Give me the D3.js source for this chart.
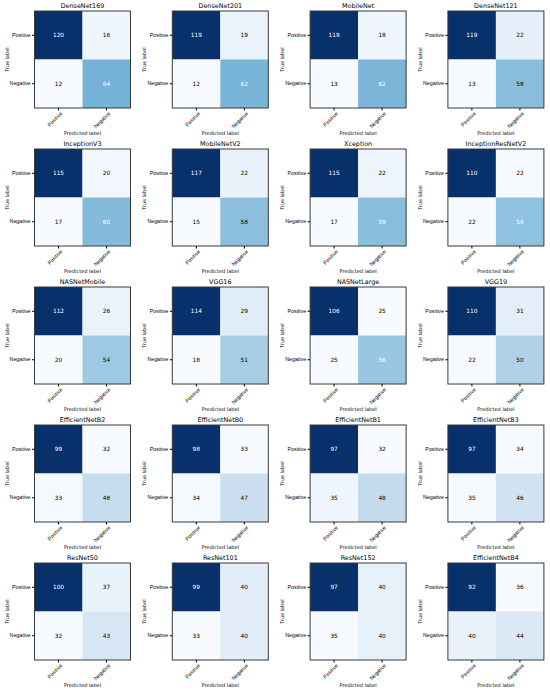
<!DOCTYPE html>
<html>
<head>
<meta charset="utf-8">
<script src="https://cdn.jsdelivr.net/npm/d3@7"></script>
<style>
  body { margin: 0; background: #fff; }
  svg { font-family: "DejaVu Sans", sans-serif; }
</style>
</head>
<body>
<div id="chart"></div>
<script>
// model names, in reading order (4 per row)
const modelNames = [
    "DenseNet169", "DenseNet201", "MobileNet", "DenseNet121",
    "InceptionV3", "MobileNetV2", "Xception", "InceptionResNetV2",
    "NASNetMobile", "VGG16", "NASNetLarge", "VGG19",
    "EfficientNetB2", "EfficientNetB0", "EfficientNetB1", "EfficientNetB3",
    "ResNet50", "ResNet101", "ResNet152", "EfficientNetB4"
];
const classLabels = ["Positive", "Negative"];

// confusion matrix cells: [true][predicted]
const posPos = [120, 119, 119, 119, 115, 117, 115, 110, 112, 114, 106, 110, 99, 98, 97, 97, 100, 99, 97, 92];
const posNeg = [16, 19, 18, 22, 20, 22, 22, 22, 26, 29, 25, 31, 32, 33, 32, 34, 37, 40, 40, 36];
const negPos = [12, 12, 13, 13, 17, 15, 17, 22, 20, 18, 25, 22, 33, 34, 35, 35, 32, 33, 35, 40];
const negNeg = [64, 62, 62, 58, 60, 58, 59, 58, 54, 51, 56, 50, 48, 47, 48, 46, 43, 40, 40, 44];

const width = 550, height = 691;
const nCols = 4;
const boxW = 96, boxH = 97;
const colStep = 137.8, rowStep = 138;
const left0 = 34.5, top0 = 11;

const svg = d3.select("#chart")
    .append("svg")
    .attr("width", width)
    .attr("height", height);

modelNames.forEach(function(name, i) {
    let col = i % nCols, row = Math.floor(i / nCols);
    let g = svg.append("g")
        .attr("transform", `translate(${left0 + col * colStep},${top0 + row * rowStep})`);

    let cells = [
        {t: 0, p: 0, v: posPos[i]},
        {t: 0, p: 1, v: posNeg[i]},
        {t: 1, p: 0, v: negPos[i]},
        {t: 1, p: 1, v: negNeg[i]}
    ];
    let vmin = d3.min(cells, d => d.v), vmax = d3.max(cells, d => d.v);

    let x = d3.scaleBand().domain(classLabels).range([0, boxW]);
    let y = d3.scaleBand().domain(classLabels).range([0, boxH]);
    let color = d3.scaleSequential(d3.interpolateBlues).domain([vmin, vmax]);

    g.selectAll("rect.cell").data(cells).enter()
        .append("rect")
        .attr("class", "cell")
        .attr("x", d => x(classLabels[d.p]))
        .attr("y", d => y(classLabels[d.t]))
        .attr("width", x.bandwidth())
        .attr("height", y.bandwidth())
        .attr("fill", d => color(d.v));

    g.selectAll("text.val").data(cells).enter()
        .append("text")
        .attr("class", "val")
        .attr("x", d => x(classLabels[d.p]) + x.bandwidth() / 2)
        .attr("y", d => y(classLabels[d.t]) + y.bandwidth() / 2)
        .attr("dy", "0.35em")
        .style("text-anchor", "middle")
        .style("font-size", "5.8px")
        .attr("fill", d => d.v > vmax / 2 ? "#fff" : "#000")
        .text(d => d.v);

    // frame
    g.append("rect")
        .attr("width", boxW)
        .attr("height", boxH)
        .attr("fill", "none")
        .attr("stroke", "#3a3a3a")
        .attr("stroke-width", 1);

    let yAxis = g.append("g")
        .call(d3.axisLeft(y).tickSize(2.5).tickPadding(1.5));
    yAxis.select(".domain").remove();
    yAxis.selectAll("text").style("font-size", "5.3px").attr("fill", "#000");

    let xAxis = g.append("g")
        .attr("transform", `translate(0,${boxH})`)
        .call(d3.axisBottom(x).tickSize(2.5));
    xAxis.select(".domain").remove();
    xAxis.selectAll("text")
        .style("font-size", "5.3px")
        .attr("fill", "#000")
        .style("text-anchor", "end")
        .attr("dy", "0.35em")
        .attr("transform", "translate(3,4.5) rotate(-45)")
        .attr("x", 0)
        .attr("y", 0);

    g.append("text")
        .attr("x", boxW / 2)
        .attr("y", -3)
        .style("text-anchor", "middle")
        .style("font-size", "6.4px")
        .text(name);

    g.append("text")
        .attr("x", boxW / 2)
        .attr("y", boxH + 27)
        .style("text-anchor", "middle")
        .style("font-size", "5px")
        .text("Predicted label");

    g.append("text")
        .attr("transform", `translate(-26,${boxH / 2}) rotate(-90)`)
        .style("text-anchor", "middle")
        .style("font-size", "5px")
        .text("True label");
});
</script>
</body>
</html>
